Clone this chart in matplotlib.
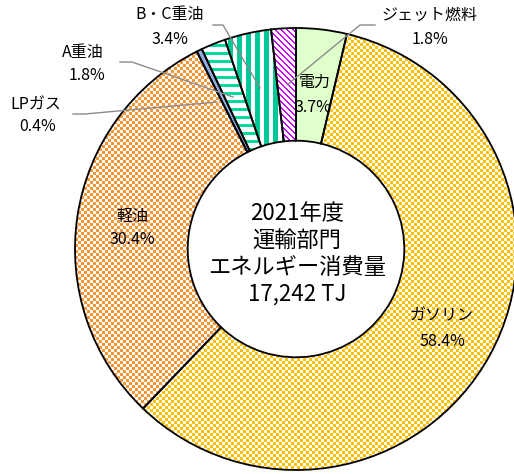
import numpy as np
import matplotlib
matplotlib.use("Agg")
import matplotlib.pyplot as plt

plt.rcParams['font.family'] = ['Noto Sans CJK JP', 'DejaVu Sans']

# data (share of energy consumption, %)
labels = ["電力", "ガソリン", "軽油", "LPガス", "A重油", "B・C重油", "ジェット燃料"]
shares = [3.7, 58.4, 30.4, 0.4, 1.8, 3.4, 1.8]
pct_text = ["3.7%", "58.4%", "30.4%", "0.4%", "1.8%", "3.4%", "1.8%"]
center_lines = ["2021年度", "運輸部門", "エネルギー消費量", "17,242 TJ"]

# styling per slice: (base colour, pattern, pattern colour)
styles = [
    ("#DFFFCB", None, None),
    ("#FFFFFF", "checker", "#FFC000"),
    ("#FFFFFF", "checker", "#F4963A"),
    ("#8FAADC", None, None),
    ("#FFFFFF", "hstripe", "#00D9A0"),
    ("#FFFFFF", "vstripe", "#00C896"),
    ("#FFFFFF", "diag", "#CC00FF"),
]

W, H = 514, 474
CX, CY, R = 296, 249, 221    # pie centre / radius in pixels
HOLE = 0.49


def px(x, y):
    """pixel position (from top-left) -> data coords of the pie axes"""
    return (x - CX) / R, (CY - y) / R


fig = plt.figure(figsize=(W / 100, H / 100), dpi=100)
ax = fig.add_axes([(CX - R) / W, (H - CY - R) / H, 2 * R / W, 2 * R / H])

wedges, _ = ax.pie(shares, startangle=90, counterclock=False, radius=1,
                   colors=[s[0] for s in styles],
                   wedgeprops=dict(width=1 - HOLE, linewidth=0))

# pattern textures, clipped to their wedge
n = 2 * R
ii, jj = np.indices((n, n))
masks = {
    "checker": ((ii // 3 + jj // 3) % 2) == 0,
    "hstripe": (ii % 8) < 3,
    "vstripe": (jj % 9) < 5,
    "diag": ((jj - ii) % 6) < 2,
}
for w, (base, pat, pcol) in zip(wedges, styles):
    if pat is None:
        continue
    c1 = np.array(matplotlib.colors.to_rgba(pcol))
    c0 = np.array(matplotlib.colors.to_rgba(base))
    img = np.where(masks[pat][..., None], c1, c0)
    im = ax.imshow(img, extent=[-1, 1, -1, 1], interpolation="nearest",
                   zorder=2)
    im.set_clip_path(w)

# outlines on top
ax.pie(shares, startangle=90, counterclock=False, radius=1,
       colors=["none"] * len(shares),
       wedgeprops=dict(width=1 - HOLE, linewidth=1.3, edgecolor="black",
                       zorder=3, fill=False))

ax.set_xlim(-1, 1)
ax.set_ylim(-1, 1)
ax.set_aspect("equal")
ax.axis("off")

fs = 11.5
# labels inside the ring
inside = {0: ((315, 82), (313, 107)),
          1: ((442, 316), (442, 342)),
          2: ((132, 216), (132, 240))}
for k, (p1, p2) in inside.items():
    ax.text(*px(*p1), labels[k], ha="center", va="center", fontsize=fs)
    ax.text(*px(*p2), pct_text[k], ha="center", va="center", fontsize=fs)

# labels outside with leader lines
outside = {6: ((430, 15), (430, 39), [(375, 25), (360, 25), (287, 85)]),
           5: ((170, 15), (170, 40), [(213, 25), (223, 25), (260, 88)]),
           4: ((83, 52), (87, 76), [(120, 62), (132, 62), (233, 97)]),
           3: ((36, 105), (38, 127), [(73, 114), (85, 114), (217, 102)])}
for k, (p1, p2, line) in outside.items():
    ax.text(*px(*p1), labels[k], ha="center", va="center", fontsize=fs)
    ax.text(*px(*p2), pct_text[k], ha="center", va="center", fontsize=fs)
    xs, ys = zip(*[px(*p) for p in line])
    ax.plot(xs, ys, color="#8C8C8C", lw=1.0, zorder=4, clip_on=False)

# centre title
for txt, y in zip(center_lines, [213, 240, 267, 294]):
    ax.text(*px(297, y), txt, ha="center", va="center", fontsize=16)

fig.savefig("out.png", dpi=100)
